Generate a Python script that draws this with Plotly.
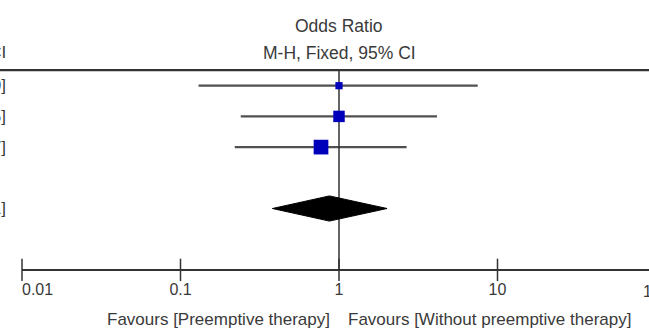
import math
import plotly.graph_objects as go

# ---------------- data ----------------
odds_ratio = [1.00, 1.00, 0.77]
ci_lower = [0.13, 0.24, 0.22]
ci_upper = [7.50, 4.15, 2.67]
weights = [13.0, 33.0, 54.0]
pooled_or = 0.87
pooled_lower = 0.38
pooled_upper = 2.01
tick_vals = [0.01, 0.1, 1, 10, 100]
tick_text = ["0.01", "0.1", "1", "10", "100"]
title_lines = ["Odds Ratio", "M-H, Fixed, 95% CI"]
left_header = "M-H, Fixed, 95% CI"
favours_left = "Favours [Preemptive therapy]"
favours_right = "Favours [Without preemptive therapy]"

# ---------------- layout helpers ----------------
study_rows = [0, 1, 2]
total_row = 4
top_row = -0.51
axis_row = 6.0
label_row = 6.69
favours_row = 7.6
title_rows = [-1.96, -1.07]

FONT = "Liberation Sans, Arial, sans-serif"
TXT = "#3a3a3a"
LINE = "#333333"

W, H = 649, 328
dec = 158.5          # px per decade
one_px = 339         # px of OR = 1
row0_px, row_px = 85.7, 30.7
x_range = [(0 - one_px) / dec, (W - one_px) / dec]
y_range = [(H - row0_px) / row_px, (0 - row0_px) / row_px]

fig = go.Figure()

# CI lines
cx, cy = [], []
for lo, hi, r in zip(ci_lower, ci_upper, study_rows):
    cx += [lo, hi, None]
    cy += [r, r, None]
fig.add_trace(go.Scatter(x=cx, y=cy, mode="lines",
                         line=dict(color="#505050", width=2.2),
                         hoverinfo="skip", showlegend=False))

# vertical line of no effect
fig.add_trace(go.Scatter(x=[1, 1], y=[top_row, axis_row], mode="lines",
                         line=dict(color=LINE, width=1.5),
                         hoverinfo="skip", showlegend=False))

# study markers
sizes = [2.0 * math.sqrt(w) for w in weights]
fig.add_trace(go.Scatter(x=odds_ratio, y=study_rows, mode="markers",
                         marker=dict(symbol="square", size=sizes, color="#0000bb",
                                     opacity=1, line=dict(width=0)),
                         showlegend=False))

# pooled diamond
h = 0.41
fig.add_trace(go.Scatter(
    x=[pooled_lower, pooled_or, pooled_upper, pooled_or, pooled_lower],
    y=[total_row, total_row - h, total_row, total_row + h, total_row],
    mode="lines", fill="toself", fillcolor="black",
    line=dict(color="black", width=1), showlegend=False, hoverinfo="skip"))

# axis line
fig.add_trace(go.Scatter(x=[tick_vals[0], tick_vals[-1]], y=[axis_row, axis_row],
                         mode="lines", line=dict(color=LINE, width=2),
                         hoverinfo="skip", showlegend=False))
# tick marks
fig.add_trace(go.Scatter(x=tick_vals, y=[axis_row] * len(tick_vals), mode="markers",
                         marker=dict(symbol="line-ns", size=16,
                                     line=dict(color=LINE, width=1.5)),
                         cliponaxis=False, hoverinfo="skip", showlegend=False))

# tick labels: in-range ones as a text trace, the first one left-aligned
in_vals = [v for v in tick_vals if x_range[0] <= math.log10(v) <= x_range[1]]
in_text = [t for v, t in zip(tick_vals, tick_text) if v in in_vals]
out_pairs = [(v, t) for v, t in zip(tick_vals, tick_text) if v not in in_vals]
fig.add_trace(go.Scatter(x=in_vals, y=[label_row] * len(in_vals), mode="text",
                         text=in_text,
                         textposition=["middle right"] + ["middle center"] * (len(in_vals) - 1),
                         textfont=dict(family=FONT, size=16, color=TXT),
                         cliponaxis=False, hoverinfo="skip", showlegend=False))

# top horizontal rule
fig.add_shape(type="line", xref="paper", x0=0, x1=1, yref="y", y0=top_row, y1=top_row,
              line=dict(color=LINE, width=2.2))

ann = []
# tick labels beyond the visible range (partly cut by the edge, as in the picture)
for v, t in out_pairs:
    frac = (math.log10(v) - x_range[0]) / (x_range[1] - x_range[0])
    ann.append(dict(x=frac, xref="paper", y=label_row, yref="y", text=t, showarrow=False,
                    xanchor="center", yanchor="middle",
                    font=dict(family=FONT, size=16, color=TXT)))
for t, r in zip(title_lines, title_rows):
    ann.append(dict(x=0, xref="x", y=r, yref="y", text=t, showarrow=False,
                    xanchor="center", yanchor="middle",
                    font=dict(family=FONT, size=17.5, color=TXT)))
ann.append(dict(x=0, xref="x", y=favours_row, yref="y", text=favours_left, showarrow=False,
                xanchor="right", yanchor="middle", xshift=-7,
                font=dict(family=FONT, size=17, color=TXT)))
ann.append(dict(x=0, xref="x", y=favours_row, yref="y", text=favours_right, showarrow=False,
                xanchor="left", yanchor="middle", xshift=7,
                font=dict(family=FONT, size=17, color=TXT)))

# left-table column: only the right ends of its texts are visible at the left edge
ann.append(dict(x=0, xref="paper", y=title_rows[1], yref="y", text=left_header,
                showarrow=False, xanchor="right", yanchor="middle", xshift=8,
                font=dict(family=FONT, size=17, color=TXT)))
row_texts = [f"{o:.2f} [{l:.2f}, {u:.2f}]" for o, l, u in zip(odds_ratio, ci_lower, ci_upper)]
row_texts.append(f"{pooled_or:.2f} [{pooled_lower:.2f}, {pooled_upper:.2f}]")
for t, r in zip(row_texts, study_rows + [total_row]):
    ann.append(dict(x=0, xref="paper", y=r, yref="y", text=t, showarrow=False,
                    xanchor="right", yanchor="middle", xshift=8,
                    font=dict(family=FONT, size=17, color=TXT)))

fig.update_layout(
    width=W, height=H,
    margin=dict(l=0, r=0, t=0, b=0),
    paper_bgcolor="white", plot_bgcolor="white",
    xaxis=dict(type="log", range=x_range, visible=False, fixedrange=True),
    yaxis=dict(range=y_range, visible=False, fixedrange=True),
    annotations=ann,
    showlegend=False,
)

fig.write_html(
    "out.html",
    config={"displayModeBar": False},
    post_script="document.body.style.margin='0';"
                "document.body.style.overflow='hidden';"
                "document.documentElement.style.overflow='hidden';",
)
